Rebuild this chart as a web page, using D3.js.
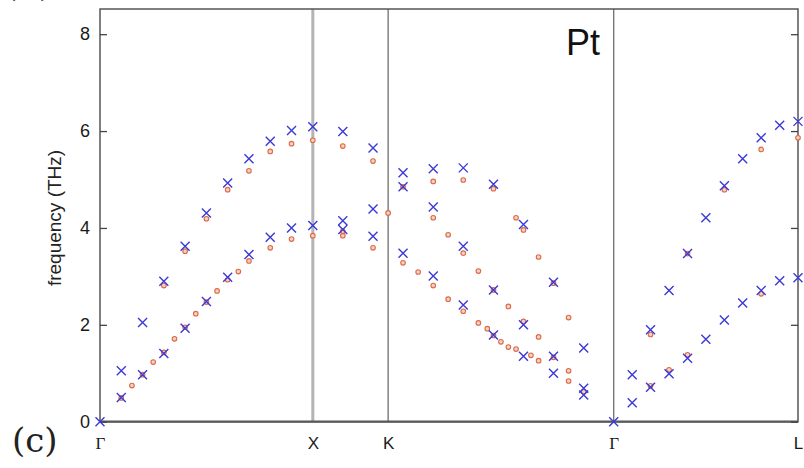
<!DOCTYPE html>
<html>
<head>
<meta charset="utf-8">
<script src="https://cdn.jsdelivr.net/npm/d3@7"></script>
<style>
body{margin:0;background:#fff;}
svg{display:block;}
</style>
</head>
<body>
<svg id="chart" width="804" height="468"></svg>
<script>
// high symmetry points along the path (units of 2pi/a)
var symLabels = ["Γ", "X", "K", "Γ", "L"];
var symK = [0, 1, 1.354, 2.414, 3.280];
var freqTicks = [0, 2, 4, 6, 8];

// blue crosses [k, THz]
var blueGX = [[0,0],[0.1,0.50],[0.1,1.05],[0.2,0.97],[0.2,2.05],[0.3,1.41],[0.3,2.90],
    [0.4,1.93],[0.4,3.62],[0.5,2.48],[0.5,4.31],[0.6,2.98],[0.6,4.93],[0.7,3.45],[0.7,5.43],
    [0.8,3.81],[0.8,5.79],[0.9,4.00],[0.9,6.01],[1.0,4.05],[1.0,6.09]];
var blueXKG = [[1.141,3.97],[1.141,4.15],[1.141,5.99],[1.283,3.83],[1.283,4.39],[1.283,5.65],
    [1.424,3.48],[1.424,4.85],[1.424,5.14],[1.566,3.01],[1.566,4.43],[1.566,5.22],
    [1.707,2.41],[1.707,3.62],[1.707,5.24],[1.849,1.79],[1.849,2.72],[1.849,4.90],
    [1.990,1.35],[1.990,2.00],[1.990,4.07],[2.131,1.00],[2.131,1.35],[2.131,2.88],
    [2.273,0.55],[2.273,0.69],[2.273,1.52],[2.414,0]];
var blueGL = [[2.501,0.39],[2.501,0.97],[2.587,0.71],[2.587,1.90],[2.674,0.99],[2.674,2.71],
    [2.761,1.31],[2.761,3.47],[2.847,1.70],[2.847,4.21],[2.934,2.10],[2.934,4.87],
    [3.020,2.45],[3.020,5.43],[3.107,2.71],[3.107,5.86],[3.194,2.91],[3.194,6.12],
    [3.280,2.97],[3.280,6.20]];

// red circles [k, THz]
var redGX = [[0.1,0.49],[0.15,0.745],[0.2,0.97],[0.25,1.23],[0.3,1.43],[0.35,1.71],[0.4,1.95],
    [0.45,2.23],[0.5,2.47],[0.55,2.70],[0.6,2.93],[0.65,3.10],[0.7,3.32],[0.8,3.59],[0.9,3.77],
    [1.0,3.84],[0.3,2.81],[0.4,3.52],[0.5,4.19],[0.6,4.79],[0.7,5.18],[0.8,5.58],[0.9,5.74],[1.0,5.81]];
var redXKG = [[1.141,3.84],[1.141,3.93],[1.141,5.69],[1.283,3.59],[1.283,5.38],[1.354,4.31],
    [1.424,3.28],[1.424,4.85],[1.495,3.09],[1.566,2.81],[1.566,4.21],[1.566,4.96],
    [1.636,2.53],[1.636,3.86],[1.707,2.28],[1.707,3.48],[1.707,4.99],[1.778,2.04],[1.778,3.11],
    [1.820,1.92],[1.849,1.78],[1.849,2.72],[1.849,4.81],[1.884,1.65],[1.919,1.54],[1.919,2.38],
    [1.955,1.50],[1.955,4.21],[1.990,2.07],[1.990,3.96],[2.025,1.37],[2.061,1.26],[2.061,1.75],
    [2.061,3.40],[2.131,1.33],[2.131,2.86],[2.202,0.84],[2.202,1.05],[2.202,2.15],[2.273,0.62]];
var redGL = [[2.587,0.74],[2.587,1.80],[2.674,1.07],[2.761,1.38],[2.761,3.47],[2.934,4.79],
    [3.107,2.64],[3.107,5.62],[3.280,5.86]];

var svg = d3.select("#chart");
var x = d3.scaleLinear().domain([0, 3.280]).range([100, 798]);
var y = d3.scaleLinear().domain([0, 8.52]).range([421.7, 9]);

// vertical lines at X, K, Γ
svg.append("g")
    .selectAll("line")
    .data(symK.slice(1, 4))
    .enter()
    .append("line")
    .attr("x1", function(d){ return x(d); })
    .attr("x2", function(d){ return x(d); })
    .attr("y1", y(8.52))
    .attr("y2", y(0))
    .attr("stroke", function(d, i){ return i == 0 ? "#b4b4b4" : "#6e6e6e"; })
    .attr("stroke-width", function(d, i){ return i == 0 ? 3 : 1.3; });

// frame
svg.append("rect")
    .attr("x", x(0))
    .attr("y", y(8.52))
    .attr("width", x(3.280) - x(0))
    .attr("height", y(0) - y(8.52))
    .attr("fill", "none")
    .attr("stroke", "#555")
    .attr("stroke-width", 1.5);
svg.append("line")
    .attr("x1", x(0)).attr("x2", x(3.280))
    .attr("y1", y(0)).attr("y2", y(0))
    .attr("stroke", "#5a5a5a")
    .attr("stroke-width", 2.2);

// left axis, ticks pointing inward
var yAxis = svg.append("g")
    .attr("transform", "translate(" + x(0) + ",0)")
    .call(d3.axisLeft(y).tickValues(freqTicks).tickSize(-7).tickPadding(10));
yAxis.select(".domain").remove();
yAxis.selectAll("line").attr("stroke", "#444").attr("stroke-width", 1.3);
yAxis.selectAll("text")
    .style("font-family", "'Liberation Sans', Arial, sans-serif")
    .style("font-size", "18px")
    .attr("fill", "#1a1a1a");

// right axis, ticks only
var yAxisR = svg.append("g")
    .attr("transform", "translate(" + x(3.280) + ",0)")
    .call(d3.axisRight(y).tickValues(freqTicks).tickSize(-7).tickFormat(""));
yAxisR.select(".domain").remove();
yAxisR.selectAll("line").attr("stroke", "#444").attr("stroke-width", 1.3);

// bottom labels
var xAxis = svg.append("g")
    .attr("transform", "translate(0," + y(0) + ")")
    .call(d3.axisBottom(x).tickValues(symK).tickSize(0).tickPadding(15)
        .tickFormat(function(d, i){ return symLabels[i]; }));
xAxis.select(".domain").remove();
xAxis.selectAll("text")
    .style("font-family", function(d, i){
        return symLabels[i] == "Γ" ? "'Liberation Serif', serif" : "'Liberation Sans', Arial, sans-serif";
    })
    .style("font-size", "17px")
    .attr("fill", "#1a1a1a");

// y label
svg.append("text")
    .attr("transform", "translate(61,218) rotate(-90)")
    .attr("text-anchor", "middle")
    .style("font-family", "'Liberation Sans', Arial, sans-serif")
    .style("font-size", "19px")
    .attr("fill", "#222")
    .text("frequency (THz)");

// red circles
var redAll = redGX.concat(redXKG, redGL);
svg.append("g")
    .selectAll("circle")
    .data(redAll)
    .enter()
    .append("circle")
    .attr("cx", function(d){ return x(d[0]); })
    .attr("cy", function(d){ return y(d[1]); })
    .attr("r", 2.3)
    .attr("fill", "#f7d2c2")
    .attr("stroke", "#dc6a48")
    .attr("stroke-width", 1.1);

// blue crosses
var blueAll = blueGX.concat(blueXKG, blueGL);
svg.append("g")
    .selectAll("path")
    .data(blueAll)
    .enter()
    .append("path")
    .attr("transform", function(d){ return "translate(" + x(d[0]) + "," + y(d[1]) + ")"; })
    .attr("d", "M-4.5,-4.5L4.5,4.5M-4.5,4.5L4.5,-4.5")
    .attr("fill", "none")
    .attr("stroke", "#3a3ad6")
    .attr("stroke-width", 1.4);

// material label
svg.append("text")
    .attr("x", 566)
    .attr("y", 55)
    .style("font-family", "'Liberation Sans', Arial, sans-serif")
    .style("font-size", "36px")
    .attr("fill", "#111")
    .text("Pt");

// panel labels
svg.append("text")
    .attr("x", 12)
    .attr("y", 452)
    .style("font-family", "'DejaVu Serif', serif")
    .style("font-size", "34px")
    .attr("fill", "#222")
    .text("(c)");
svg.append("text")
    .attr("x", 4)
    .attr("y", -4)
    .style("font-family", "'DejaVu Serif', serif")
    .style("font-size", "34px")
    .attr("fill", "#222")
    .text("(b)");
</script>
</body>
</html>
